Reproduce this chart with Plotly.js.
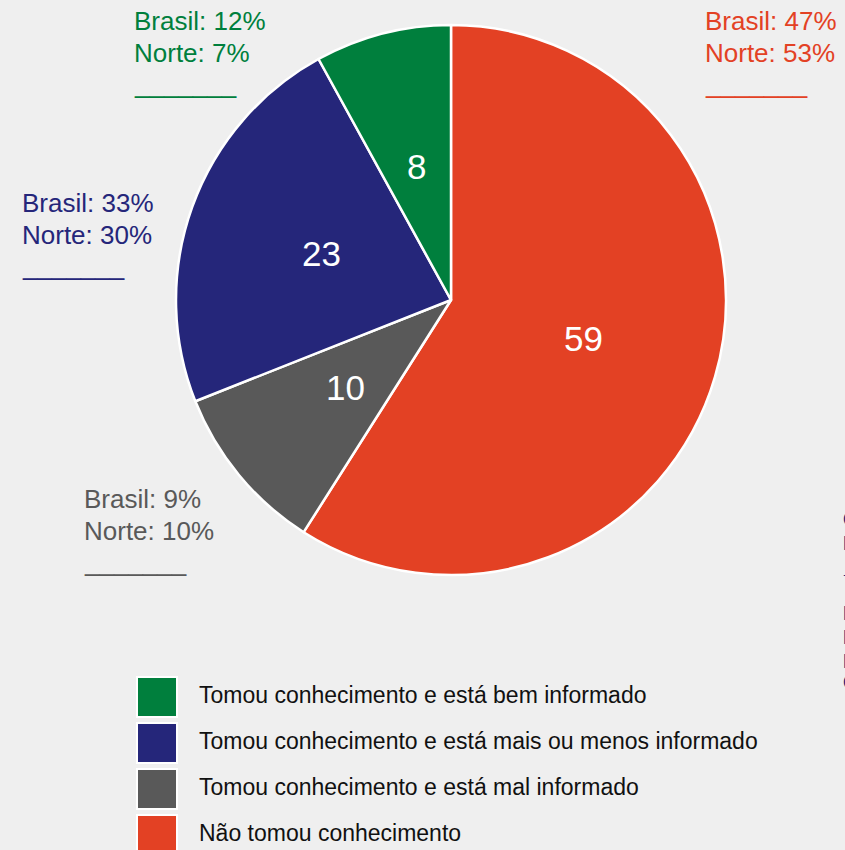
<!DOCTYPE html>
<html>
<head>
<meta charset="utf-8">
<script src="https://cdn.plot.ly/plotly-3.0.1.min.js"></script>
<style>html,body{margin:0;padding:0;background:#efefef;}</style>
</head>
<body>
<div id="chart" style="width:845px;height:850px;"></div>
<script>
const categories = [
  "Tomou conhecimento e está bem informado",
  "Tomou conhecimento e está mais ou menos informado",
  "Tomou conhecimento e está mal informado",
  "Não tomou conhecimento"
];
const values = [8, 23, 10, 59];
const colors = ["#007f3d", "#25267a", "#595959", "#e34124"];
const brasil = [12, 33, 9, 47];
const norte = [7, 30, 10, 53];

const W = 845, H = 850;
const px = v => v / W;
const py = v => 1 - v / H;
const FONT = "Liberation Sans, Arial, sans-serif";

// pie geometry (pixels)
const CX = 451, CY = 300, R = 275;

// slices run counterclockwise from 12 o'clock in legend order;
// drawn clockwise with the order reversed
const pie = {
  type: "pie",
  values: values.slice().reverse(),
  labels: categories.slice().reverse(),
  sort: false,
  direction: "clockwise",
  rotation: 0,
  marker: {colors: colors.slice().reverse(), line: {color: "#ffffff", width: 2.5}},
  textinfo: "none",
  hoverinfo: "label+value",
  showlegend: false,
  domain: {x: [px(CX - R), px(CX + R)], y: [py(CY + R), py(CY - R)]}
};

const annotations = [];
const shapes = [];

// value labels at half radius along each slice's mid-angle (counterclockwise from top)
const total = values.reduce((a, b) => a + b, 0);
let cum = 0;
values.forEach((v, i) => {
  const mid = (cum + v / 2) / total * 2 * Math.PI;
  cum += v;
  const r = 0.5 * R;
  const x = CX - r * Math.sin(mid);
  const y = CY - r * Math.cos(mid);
  annotations.push({
    xref: "paper", yref: "paper", x: px(x), y: py(y),
    xanchor: "center", yanchor: "middle", showarrow: false,
    text: String(v),
    font: {family: FONT, size: 35, color: "#ffffff"}
  });
});

// side labels: left x, baseline of first line (pixels)
const labelPos = [[132, 30], [20, 212], [82, 508], [703, 30]];
const pitch = 31.5;
categories.forEach((c, i) => {
  const lines = ["Brasil: " + brasil[i] + "%", "Norte: " + norte[i] + "%", "_______"];
  lines.forEach((t, k) => {
    const base = labelPos[i][1] + k * pitch;
    annotations.push({
      xref: "paper", yref: "paper",
      x: px(labelPos[i][0]), y: py(base - 9),
      xanchor: "left", yanchor: "middle", align: "left",
      showarrow: false, text: t,
      font: {family: FONT, size: 26, color: colors[i]}
    });
  });
  // custom legend
  const top = 677 + i * 46;
  shapes.push({
    type: "rect", xref: "paper", yref: "paper",
    x0: px(137), x1: px(177), y0: py(top), y1: py(top + 40),
    fillcolor: colors[i], line: {color: "#ffffff", width: 2}
  });
  annotations.push({
    xref: "paper", yref: "paper",
    x: px(197), y: py(top + 18),
    xanchor: "left", yanchor: "middle", align: "left",
    showarrow: false, text: c,
    font: {family: FONT, size: 23, color: "#111111"}
  });
});

// partially visible text at the right edge
const edgeText = ["C", "D", "_", "I", "D", "D", "C"];
const edgeY = [519, 543, 566, 613, 637, 661, 682];
edgeText.forEach((t, k) => {
  annotations.push({
    xref: "paper", yref: "paper",
    x: px(841), y: py(edgeY[k]),
    xanchor: "left", yanchor: "middle", showarrow: false,
    text: "<b>" + t + "</b>",
    font: {family: FONT, size: 20, color: "#25267a"}
  });
});

const layout = {
  width: W, height: H,
  margin: {l: 0, r: 0, t: 0, b: 0},
  paper_bgcolor: "#efefef",
  plot_bgcolor: "#efefef",
  showlegend: false,
  annotations: annotations,
  shapes: shapes
};

Plotly.newPlot("chart", [pie], layout, {displayModeBar: false, staticPlot: true});
</script>
</body>
</html>
